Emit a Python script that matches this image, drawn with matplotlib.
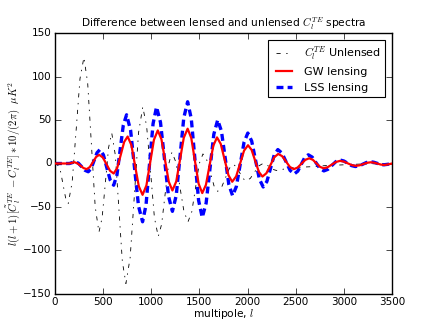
import matplotlib
matplotlib.use("Agg")
import matplotlib.pyplot as plt

plt.style.use("classic")
plt.rcParams["figure.facecolor"] = "white"
plt.rcParams["savefig.facecolor"] = "white"
plt.rcParams["font.family"] = ["DejaVu Sans"]
plt.rcParams["mathtext.fontset"] = "cm"

# Unlensed C_l^TE (black dash-dot)
l_unl = [0, 30, 57, 84, 111, 138, 179, 220, 260, 301, 340, 379, 418, 457, 490, 524, 557,
         590, 627, 664, 700, 737, 781, 825, 868, 912, 952, 993, 1033, 1073, 1108, 1144, 1180,
         1215, 1257, 1298, 1340, 1382, 1421, 1460, 1498, 1537, 1575, 1614, 1652, 1690, 1730,
         1771, 1812, 1852, 1885, 1918, 1952, 1985, 2029, 2072, 2116, 2160, 2195, 2230, 2265,
         2300, 2375, 2450, 2600, 2700, 2800, 2900, 3000, 3200, 3500]
v_unl = [0, -2, -8.4, -24, -39.6, -46, -21.4, 38, 97.4, 122, 92.5, 21.5, -49.5, -79, -62.3, -22, 18.3,
         35, 9.7, -51.5, -112.7, -138, -108.3, -36.5, 35.3, 65, 43.2, -9.5, -62.2, -84, -69.8, -35.5, -1.2,
         13, 1.3, -27, -55.3, -67, -55.6, -28, -0.4, 11, 4.7, -10.5, -25.7, -32, -27.5,
         -16.5, -5.5, -1, -3.8, -10.5, -17.2, -20, -17.1, -10, -2.9, 0, -1.2, -4, -6.8,
         -8, -6.5, -5, -4, -3.5, -2.5, -2, -1.5, -0.5, 0]

# GW lensing (red solid)
l_gw = [0, 75, 150, 200, 232, 265, 298, 330, 362, 395, 428, 460, 498, 535, 572, 610, 646, 683, 719,
        755, 794, 832, 871, 910, 950, 989, 1028, 1068, 1106, 1144, 1182, 1220, 1260, 1299, 1338,
        1378, 1416, 1454, 1492, 1530, 1568, 1606, 1645, 1683, 1722, 1762, 1802, 1841, 1882, 1923, 1964,
        2005, 2042, 2080, 2118, 2155, 2196, 2237, 2278, 2319, 2359, 2400, 2440, 2480, 2520, 2560, 2600,
        2640, 2678, 2715, 2752, 2790, 2832, 2875, 2918, 2960, 3001, 3042, 3084, 3125, 3164, 3202, 3241,
        3280, 3315, 3350, 3385, 3420, 3460, 3500]
v_gw = [0, 0, 0, 1.5, 0.3, -2.5, -5.3, -6.5, -4.1, 1.75, 7.6, 10, 6.85, -0.75, -8.35, -11.5, -5.3, 9.75, 24.8,
        31, 21.2, -2.5, -26.2, -36, -25.2, 1, 27.2, 38, 27.9, 3.5, -20.9, -31, -20.6, 4.5, 29.6,
        40, 29.2, 3, -23.2, -34, -24.6, -2, 20.6, 30, 22.5, 4.5, -13.5, -21, -14.8, 0, 14.8,
        21, 15.7, 3, -9.7, -15, -11.2, -2, 7.2, 11, 8.45, 2.25, -3.95, -6.5, -4.65, -0.25, 4.15,
        6, 4.3, 0.25, -3.8, -5.5, -4.25, -1.25, 1.75, 3, 2.2, 0.15, -1.9, -2.7, -2.1, -0.65, 0.8,
        1.4, 0.95, -0.15, -1.25, -1.7, -1.0, 0]

# LSS lensing (blue dashed)
l_lss = [0, 75, 150, 210, 244, 278, 312, 346, 376, 406, 437, 467, 503, 538, 574, 610, 644, 677, 710,
         744, 786, 827, 868, 910, 946, 982, 1019, 1055, 1096, 1138, 1179, 1220, 1260, 1299, 1338,
         1378, 1416, 1454, 1492, 1530, 1570, 1610, 1650, 1690, 1729, 1768, 1806, 1845, 1884, 1924, 1964,
         2003, 2043, 2083, 2123, 2163, 2201, 2239, 2277, 2315, 2358, 2400, 2442, 2485, 2522, 2558, 2594,
         2631, 2672, 2712, 2752, 2793, 2835, 2876, 2918, 2960, 3000, 3040, 3080, 3120, 3159, 3198, 3236,
         3275, 3310, 3345, 3380, 3415, 3458, 3500]
v_lss = [0, 0, 0, 2, 0.3, -3.75, -7.8, -9.5, -5.75, 3.25, 12.3, 16, 10, -4.5, -19, -25, -13.1, 15.5, 44.1,
         56, 38, -5.5, -49, -67, -47.7, -1, 45.7, 65, 47.4, 5, -37.4, -55, -36.5, 8, 52.5,
         71, 51.5, 4.5, -42.5, -62, -45.6, -6, 33.6, 50, 37.3, 6.5, -24.3, -37, -26.5, -1, 24.5,
         35, 25.9, 4, -17.9, -27, -20.7, -5.5, 9.7, 16, 11.9, 2, -7.9, -12, -8.8, -1, 6.8,
         10, 7.3, 0.75, -5.8, -8.5, -6.7, -2.25, 2.2, 4, 2.9, 0.25, -2.4, -3.5, -2.7, -0.75, 1.2,
         2, 1.5, 0.25, -1.0, -1.5, -0.9, 0]

xticks = [0, 500, 1000, 1500, 2000, 2500, 3000, 3500]
yticks = [-150, -100, -50, 0, 50, 100, 150]

fig = plt.figure(figsize=(4.36, 3.27), dpi=100)
ax = fig.add_axes([0.126, 0.101, 0.773, 0.798])

ax.plot(l_unl, v_unl, color="black", linestyle="-.", linewidth=0.6,
        dashes=(3, 4, 1, 4), label=r"$C_l^{TE}$ Unlensed", zorder=2)
ax.plot(l_lss, v_lss, color="blue", linestyle="--", linewidth=2.4, dashes=(5, 3),
        label="LSS lensing", zorder=2.5)
ax.plot(l_gw, v_gw, color="red", linestyle="-", linewidth=1.6, label="GW lensing", zorder=3)

ax.set_xlim(0, 3500)
ax.set_ylim(-150, 150)
ax.set_xticks(xticks)
ax.set_yticks(yticks)
ax.tick_params(labelsize=7.5, direction="in", length=4, pad=2.5)
ax.set_title(r"Difference between lensed and unlensed $C_l^{TE}$ spectra", fontsize=7.7, pad=4)
ax.set_xlabel(r"multipole, $l$", fontsize=7.7, labelpad=0)
ax.set_ylabel(r"$l(l+1)[\tilde{C}_l^{TE}\ - C_l^{TE}]*10/(2\pi)\ \ \mu K^2$", fontsize=7.7, labelpad=0)

h, lab = ax.get_legend_handles_labels()
order = [0, 2, 1]
leg = ax.legend([h[i] for i in order], [lab[i] for i in order], loc="upper right",
                fontsize=8, numpoints=2, handlelength=2.0, borderaxespad=0.6,
                frameon=True, fancybox=False)
leg.get_frame().set_edgecolor("black")
leg.get_frame().set_linewidth(0.8)

fig.savefig("out.png", dpi=100)
